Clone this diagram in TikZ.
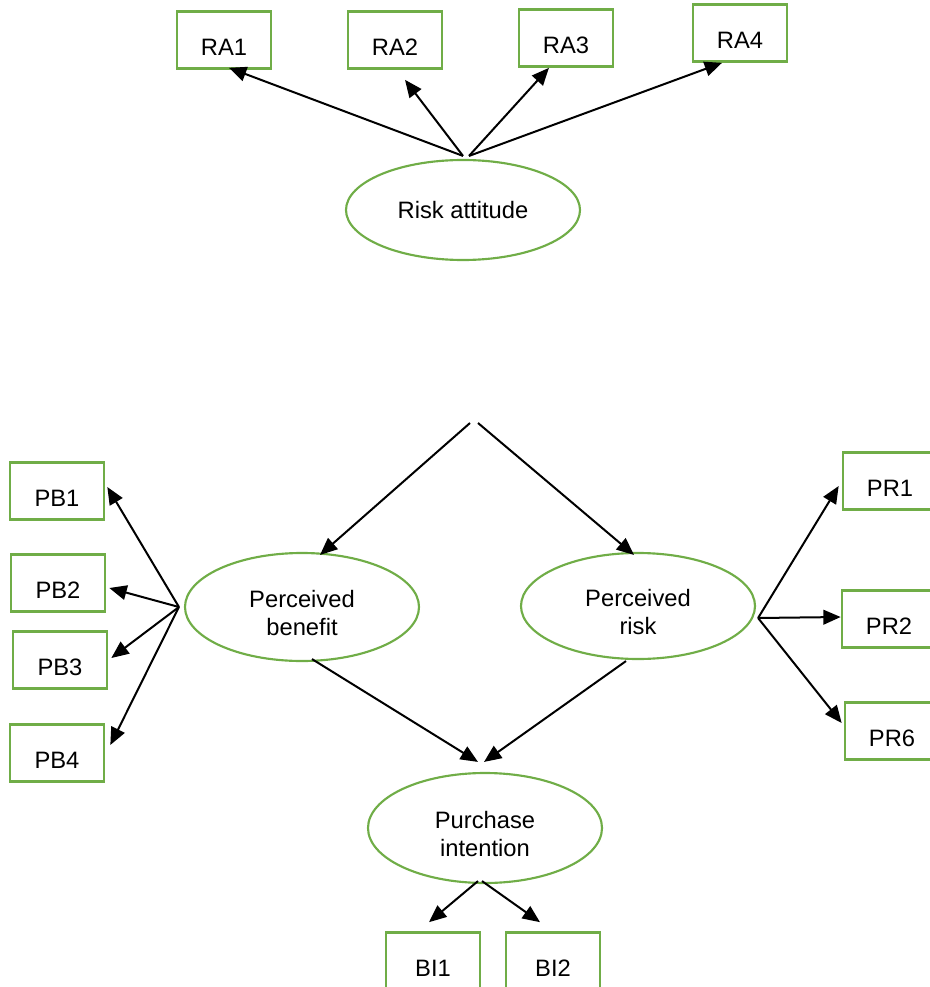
\documentclass[tikz,border=0pt]{standalone}
\usepackage{fontspec}
\setmainfont{Liberation Sans}
\usetikzlibrary{arrows.meta,shapes.geometric}
\definecolor{itemgreen}{HTML}{70AD47}
\tikzset{
  item/.style={draw=itemgreen,line width=2pt,fill=white,minimum width=70.5pt,minimum height=42.75pt,inner xsep=0pt,inner ysep=0pt,text height=33pt,text depth=9.75pt},
  construct/.style={draw=itemgreen,line width=1.6pt,ellipse,align=center,inner sep=0pt,minimum width=175.5pt,minimum height=81pt},
  twoline/.style={text height=42pt,text depth=0pt},
  arrow/.style={-{Triangle[length=13pt,width=11pt]},line width=1.5pt,draw=black}
}

\begin{document}
\begin{tikzpicture}[x=0.75pt,y=-0.75pt,font=\fontsize{17.8}{20.3}\selectfont]
  \useasboundingbox (0,0) rectangle (929,987);

  % risk attitude and its items
  \node (ra1) [item] at (224,40) {RA1};
  \node (ra2) [item] at (395,40) {RA2};
  \node (ra3) [item] at (566,38) {RA3};
  \node (ra4) [item] at (740,33) {RA4};
  \node (ra) [construct,minimum height=75pt] at (463,210) {Risk attitude};

  % constructs
  \node (pb) [construct,twoline] at (302,607) {Perceived\\benefit};
  \node (pr) [construct,twoline,minimum height=79.5pt] at (638,606) {Perceived\\risk};
  \node (pi) [construct,twoline,minimum height=82.5pt] at (485,828) {Purchase\\intention};

  \node (pb1) [item] at (57,491) {PB1};
  \node (pb2) [item] at (58,583) {PB2};
  \node (pb3) [item] at (60,660) {PB3};
  \node (pb4) [item] at (57,753) {PB4};

\node (pr1) [item] at (890,481) {PR1};
\node (pr2) [item] at (889,619) {PR2};
\node (pr6) [item] at (892,731) {PR6};

\node (bi1) [item] at (433,961) {BI1};
\node (bi2) [item] at (553,961) {BI2};

  % free ends of the connectors
  \coordinate (raL) at ([shift={(0,-3)}]ra.north);
  \coordinate (raR) at ([shift={(6,-3)}]ra.north);
  \coordinate (apexL) at (470,423);
  \coordinate (apexR) at (478,423);
  \coordinate (pbout) at ([shift={(-5,0)}]pb.west);
  \coordinate (prout) at ([shift={(2,12)}]pr.east);

  \draw[arrow] (raL) -- ([shift={(5,-2)}]ra1.south);
  \draw[arrow] (raL) -- ([shift={(10,10)}]ra2.south);
  \draw[arrow] (raR) -- ([shift={(-17,0)}]ra3.south);
  \draw[arrow] (raR) -- ([shift={(-18,0)}]ra4.south);

  \draw[arrow] (apexL) -- ([shift={(18,3)}]pb.north);
  \draw[arrow] (apexR) -- ([shift={(-4,3)}]pr.north);

  \draw[arrow] (pbout) -- ([shift={(2,-4)}]pb1.east);
  \draw[arrow] (pbout) -- ([shift={(3,5)}]pb2.east);
  \draw[arrow] (pbout) -- ([shift={(3,-2)}]pb3.east);
  \draw[arrow] (pbout) -- ([shift={(5,-8)}]pb4.east);

  \draw[arrow] (prout) -- ([shift={(-3,5)}]pr1.west);
  \draw[arrow] (prout) -- ([shift={(0,-2)}]pr2.west);
  \draw[arrow] (prout) -- ([shift={(-2,-8)}]pr6.west);

  \draw[arrow] ([shift={(10,-3)}]pb.south) -- ([shift={(-7,-10)}]pi.north);
  \draw[arrow] ([shift={(-12,1)}]pr.south) -- ([shift={(-1,-10)}]pi.north);

  \draw[arrow] ([shift={(-7,-3)}]pi.south) -- ([shift={(-4,-9)}]bi1.north);
  \draw[arrow] ([shift={(-3,-3)}]pi.south) -- ([shift={(-13,-9)}]bi2.north);
\end{tikzpicture}
\end{document}
